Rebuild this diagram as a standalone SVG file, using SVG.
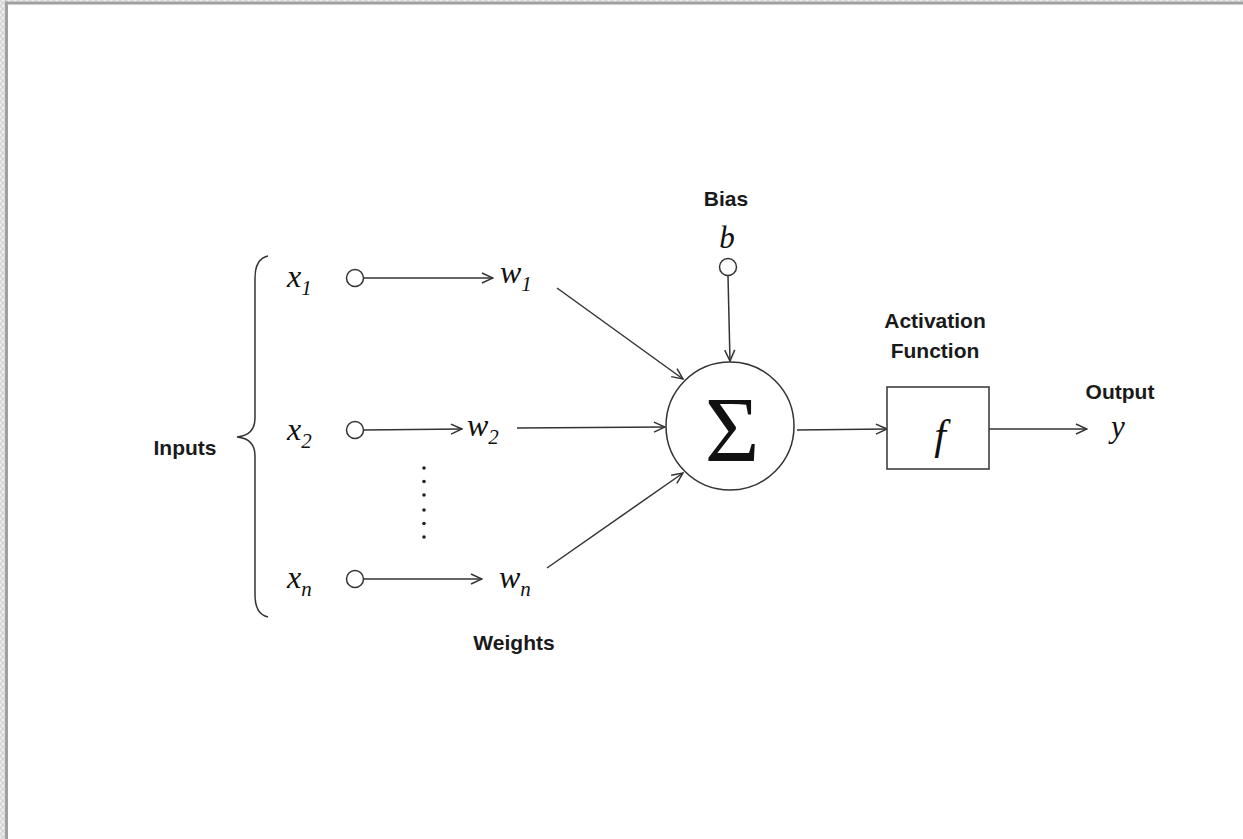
<svg xmlns="http://www.w3.org/2000/svg" width="1243" height="839" viewBox="0 0 1243 839">
<defs>
<pattern id="chk" width="6" height="6" patternUnits="userSpaceOnUse">
<rect width="6" height="6" fill="#ececec"/>
<path d="M0,0 L6,6 M6,0 L0,6" stroke="#d2d2d2" stroke-width="1.2"/>
</pattern>
<marker id="arr" markerUnits="userSpaceOnUse" markerWidth="14" markerHeight="12" viewBox="0 0 14 12" refX="13" refY="6" orient="auto">
<path d="M2,1 L13,6 L2,11" fill="none" stroke="#333" stroke-width="1.5"/>
</marker>
</defs>
<style>
.lbl{font-family:"Liberation Sans",Arial,sans-serif;font-weight:bold;font-size:21px;fill:#1a1a1a;text-anchor:middle}
.math{font-family:"Liberation Serif","Times New Roman",serif;font-style:italic;fill:#111}
.ln{stroke:#333;stroke-width:1.5;fill:none}
.node{stroke:#333;stroke-width:1.5;fill:#fff}
</style>
<rect x="0" y="0" width="1243" height="839" fill="#fff"/>
<rect x="0" y="0" width="1243" height="1.5" fill="url(#chk)"/>
<rect x="0" y="0" width="5" height="839" fill="url(#chk)"/>
<rect x="5" y="1.5" width="1238" height="3" fill="#a0a0a0"/>
<rect x="5" y="1.5" width="3" height="838" fill="#a0a0a0"/>

<g id="inputs-brace">
<path class="ln" d="M268,256 C259,258 255,266 255,278 L255,418 C255,430 248,436 237,437 C248,438 255,444 255,456 L255,595 C255,607 259,615 268,617"/>
<text class="lbl" x="185" y="455">Inputs</text>
</g>

<g id="connectors">
<line class="ln" x1="364" y1="278" x2="493" y2="278" marker-end="url(#arr)"/>
<line class="ln" x1="364" y1="430" x2="462" y2="429" marker-end="url(#arr)"/>
<line class="ln" x1="364" y1="579" x2="482" y2="579" marker-end="url(#arr)"/>
<line class="ln" x1="557" y1="288" x2="683" y2="379" marker-end="url(#arr)"/>
<line class="ln" x1="517" y1="428" x2="665" y2="427" marker-end="url(#arr)"/>
<line class="ln" x1="547" y1="568" x2="683" y2="473" marker-end="url(#arr)"/>
<line class="ln" x1="728" y1="276" x2="730" y2="361" marker-end="url(#arr)"/>
<line class="ln" x1="797" y1="430" x2="887" y2="429" marker-end="url(#arr)"/>
<line class="ln" x1="989" y1="429" x2="1087" y2="429" marker-end="url(#arr)"/>
</g>

<g id="x1">
<text class="math" x="287" y="287" font-size="32">x<tspan font-size="21" dy="8">1</tspan></text>
<circle class="node" cx="355" cy="278" r="8.5"/>
</g>
<g id="x2">
<text class="math" x="287" y="440" font-size="32">x<tspan font-size="21" dy="8">2</tspan></text>
<circle class="node" cx="355" cy="430" r="8.5"/>
</g>
<g id="xn">
<text class="math" x="287" y="588" font-size="32">x<tspan font-size="21" dy="8">n</tspan></text>
<circle class="node" cx="355" cy="579" r="8.5"/>
</g>

<g id="w1"><text class="math" x="500" y="283" font-size="32">w<tspan font-size="21" dy="8">1</tspan></text></g>
<g id="w2"><text class="math" x="467" y="436" font-size="32">w<tspan font-size="21" dy="8">2</tspan></text></g>
<g id="wn"><text class="math" x="499" y="588" font-size="32">w<tspan font-size="21" dy="8">n</tspan></text></g>

<g id="dots" fill="#222">
<circle cx="424" cy="468" r="1.8"/>
<circle cx="424" cy="481.5" r="1.8"/>
<circle cx="424" cy="495" r="1.8"/>
<circle cx="424" cy="510" r="1.8"/>
<circle cx="424" cy="523.5" r="1.8"/>
<circle cx="424" cy="537" r="1.8"/>
</g>

<g id="weights-label"><text class="lbl" x="514" y="650">Weights</text></g>

<g id="bias">
<text class="lbl" x="726" y="206">Bias</text>
<text class="math" x="727" y="248" font-size="31" text-anchor="middle">b</text>
<circle class="node" cx="728" cy="267" r="8.5"/>
</g>

<g id="sum">
<circle class="node" cx="730" cy="426" r="64"/>
<text x="732" y="461" font-family="'Liberation Serif','Times New Roman',serif" font-size="94" text-anchor="middle" fill="#111">Σ</text>
</g>

<g id="activation">
<text class="lbl" x="935" y="328">Activation</text>
<text class="lbl" x="935" y="358">Function</text>
<rect class="node" x="887" y="387" width="102" height="82"/>
<text class="math" x="940" y="449" font-size="42" text-anchor="middle">f</text>
</g>

<g id="output">
<text class="lbl" x="1120" y="399">Output</text>
<text class="math" x="1118" y="437" font-size="31" text-anchor="middle">y</text>
</g>
</svg>
